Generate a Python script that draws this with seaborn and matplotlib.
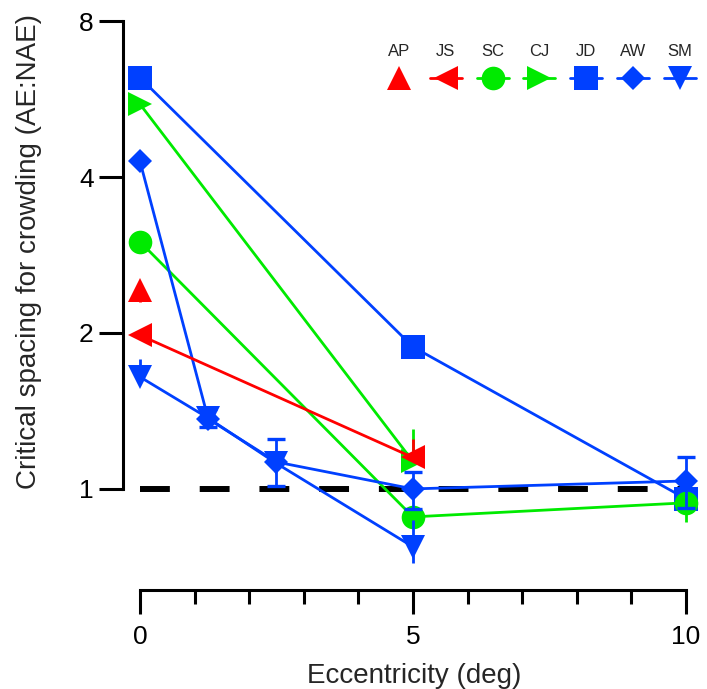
import numpy as np
import matplotlib
matplotlib.use('Agg')
import matplotlib.pyplot as plt
import seaborn as sns
from matplotlib.ticker import NullLocator, FixedLocator

# --- data ---
nan = np.nan
SUBJECTS = ['AP', 'JS', 'SC', 'CJ', 'JD', 'AW', 'SM']

ECC_AP = [0]
AP = [2.42]
AP_LO = [2.30]
AP_HI = [2.50]

ECC_JS = [0, 5]
JS = [1.98, 1.15]
JS_LO = [nan, nan]
JS_HI = [nan, 1.25]

ECC_SC = [0, 5, 10]
SC = [3.00, 0.883, 0.94]
SC_LO = [nan, nan, 0.864]
SC_HI = [nan, nan, nan]

ECC_CJ = [0, 5]
CJ = [5.53, 1.13]
CJ_LO = [nan, nan]
CJ_HI = [nan, 1.305]

ECC_JD = [0, 5, 10]
JD = [6.22, 1.88, 0.957]
JD_LO = [nan, nan, nan]
JD_HI = [nan, nan, nan]

ECC_AW = [0, 1.25, 2.5, 5, 10]
AW = [4.29, 1.365, 1.127, 1.0, 1.036]
AW_LO = [nan, 1.317, 1.013, 0.915, 0.92]
AW_HI = [nan, 1.427, 1.249, 1.078, 1.15]

ECC_SM = [0, 1.25, 2.5, 5]
SM = [1.645, 1.37, 1.12, 0.773]
SM_LO = [nan, nan, nan, 0.72]
SM_HI = [1.78, nan, nan, 0.87]

X_TICKS = [0, 5, 10]
Y_TICKS = [1, 2, 4, 8]

# --- styling ---
RED = '#ff0000'
GREEN = '#00ea00'
BLUE = '#0040ff'

STYLE = {
    # name: (color, marker, markersize, zorder, capsize)
    'AP': (RED, '^', 17, 9, 0),
    'JS': (RED, '<', 17, 8, 0),
    'SC': (GREEN, 'o', 17, 5, 0),
    'CJ': (GREEN, '>', 17, 4, 0),
    'JD': (BLUE, 's', 17, 3, 0),
    'AW': (BLUE, 'D', 12, 7, 6.5),
    'SM': (BLUE, 'v', 17, 6, 0),
}

DATA = {
    'AP': (ECC_AP, AP, AP_LO, AP_HI),
    'JS': (ECC_JS, JS, JS_LO, JS_HI),
    'SC': (ECC_SC, SC, SC_LO, SC_HI),
    'CJ': (ECC_CJ, CJ, CJ_LO, CJ_HI),
    'JD': (ECC_JD, JD, JD_LO, JD_HI),
    'AW': (ECC_AW, AW, AW_LO, AW_HI),
    'SM': (ECC_SM, SM, SM_LO, SM_HI),
}

sns.set_theme(style='ticks')
plt.rcParams['font.family'] = ['Liberation Sans', 'DejaVu Sans']

W, H = 707, 689
fig = plt.figure(figsize=(W / 100, H / 100), dpi=100)
ax = fig.add_axes([123 / W, 99 / H, 582 / W, 575 / H])

# reference line (ratio 1)
ax.hlines(1, X_TICKS[0], X_TICKS[-1], colors='black', linewidth=4.3,
          linestyles=(0, (5, 5)), zorder=2)

for name in SUBJECTS:
    ecc, val, lo, hi = DATA[name]
    color, marker, ms, z, cap = STYLE[name]
    val = np.array(val)
    lo, hi = np.array(lo), np.array(hi)
    # one-sided bars: missing side collapses onto the point
    none = np.isnan(lo) & np.isnan(hi)
    lo = np.where(np.isnan(lo), val, lo)
    hi = np.where(np.isnan(hi), val, hi)
    lo[none] = nan
    hi[none] = nan
    yerr = np.vstack([val - lo, hi - val])
    sns.lineplot(x=ecc, y=val, ax=ax, color=color, marker=marker,
                 markersize=ms, markeredgewidth=0, linewidth=2.0,
                 zorder=z, sort=False, estimator=None)
    ax.errorbar(ecc, val, yerr=yerr, fmt='none', ecolor=color,
                elinewidth=2.0, capsize=cap, capthick=2.4, zorder=z)

# axes
ax.set_yscale('log', base=2)
ax.set_xlim(-0.311, 10.35)
ax.set_ylim(0.638, 8.22)
ax.yaxis.set_major_locator(FixedLocator(Y_TICKS))
ax.yaxis.set_minor_locator(NullLocator())
ax.set_yticklabels([str(t) for t in Y_TICKS])
ax.set_xticks(X_TICKS)
ax.set_xticklabels([str(t) for t in X_TICKS])
ax.xaxis.set_minor_locator(FixedLocator(range(0, 11)))

sns.despine(ax=ax)
for side in ['left', 'bottom']:
    ax.spines[side].set_linewidth(2.2)
    ax.spines[side].set_color('black')
ax.spines['left'].set_bounds(1, 8)
ax.spines['bottom'].set_bounds(0, 10)

ax.tick_params(axis='both', which='major', length=17, width=2.2,
               labelsize=19, colors='black', pad=4)
ax.tick_params(axis='x', which='minor', length=10, width=2.2, colors='black')
ax.tick_params(axis='x', which='major', pad=8)

ax.set_xlabel('Eccentricity (deg)', fontsize=20, labelpad=10)
ax.set_ylabel('Critical spacing for crowding (AE:NAE)', fontsize=20)
ax.yaxis.set_label_coords(-0.14, 0.588)
ax.grid(False)
ax.set_facecolor('white')

# legend: labels above marker handles, across the top right
ax_w = 582
for i, name in enumerate(SUBJECTS):
    color, marker, ms, z, cap = STYLE[name]
    cx = (399 - 123 + i * 46.8) / ax_w
    ym, yt = 0.890, 0.936
    if name != 'AP':
        ax.plot([cx - 16 / ax_w, cx + 16 / ax_w], [ym, ym], color=color,
                linewidth=2.0, transform=ax.transAxes, clip_on=False, zorder=10)
    ax.plot([cx], [ym], marker=marker, markersize=ms, color=color,
            markeredgewidth=0, linestyle='none', transform=ax.transAxes,
            clip_on=False, zorder=11)
    ax.text(cx, yt, name, fontsize=12, ha='center', va='center',
            transform=ax.transAxes)

fig.savefig('out.png', dpi=100, facecolor='white')
